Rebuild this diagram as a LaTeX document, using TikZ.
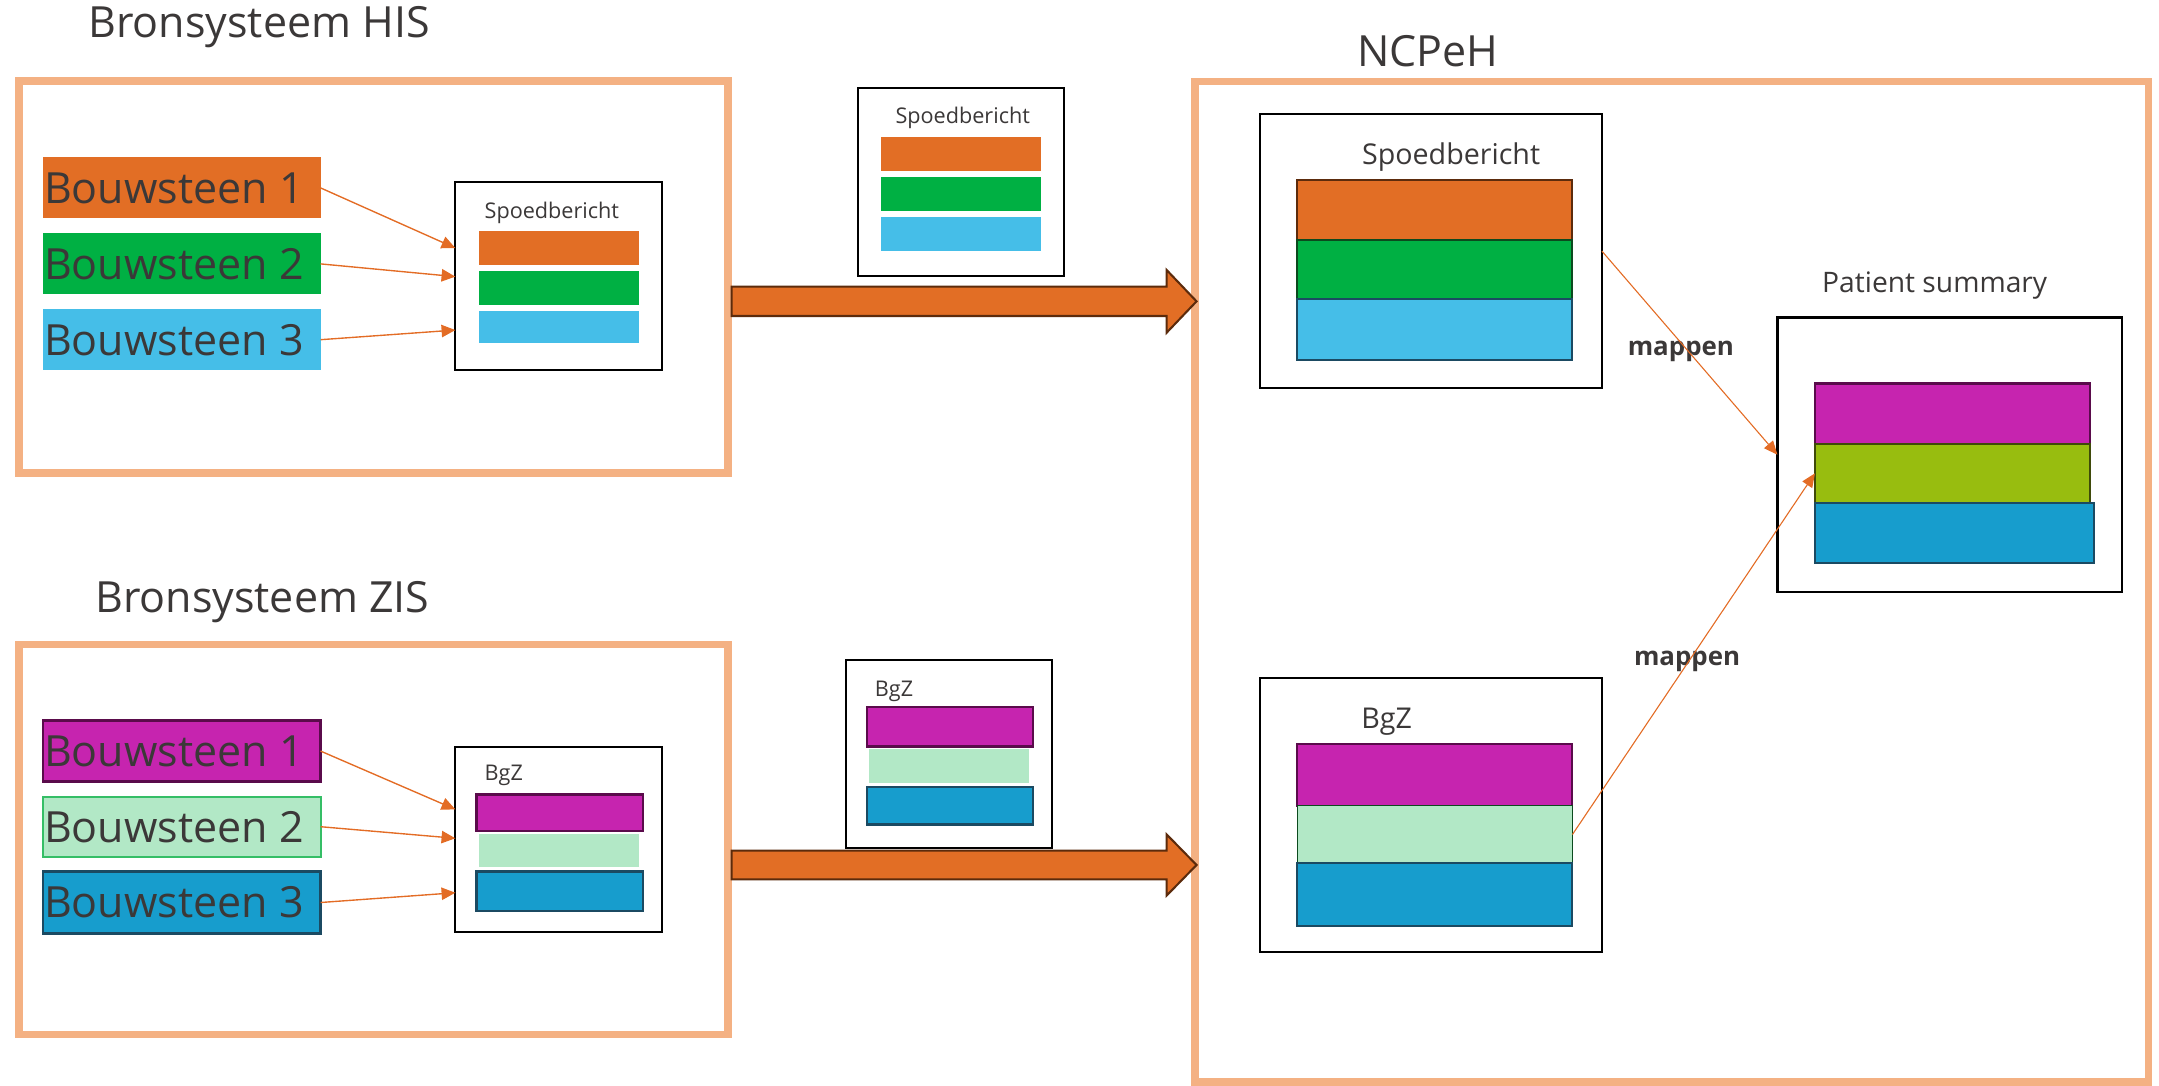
\documentclass[tikz,border=0pt]{standalone}
\usepackage{fontspec}
\setmainfont{Open Sans}
\usetikzlibrary{arrows.meta,calc}
\definecolor{frameor}{HTML}{F4B183}
\definecolor{bor}{HTML}{E26E25}
\definecolor{bgreen}{HTML}{00B043}
\definecolor{blight}{HTML}{45BEE8}
\definecolor{bpurple}{HTML}{C624AF}
\definecolor{blgreen}{HTML}{B2E8C6}
\definecolor{bblue}{HTML}{179DCD}
\definecolor{bolive}{HTML}{98BD0F}
\definecolor{txt}{HTML}{3B3838}
\definecolor{arrowc}{HTML}{E36C25}
\definecolor{brownb}{HTML}{5C2B0C}
\definecolor{dpurple}{HTML}{5A0B4B}
\definecolor{dblue}{HTML}{1B4A62}
\definecolor{dgreen}{HTML}{0C4A1E}
\definecolor{mgreen}{HTML}{35BE66}
\definecolor{dolive}{HTML}{3F4A0A}
\tikzset{
  sysframe/.style={draw=frameor, line width=5.5pt, rectangle, inner sep=0pt, outer sep=0pt},
  msgbox/.style={draw=black, line width=1.5pt, fill=white, rectangle, inner sep=0pt, outer sep=0pt},
  bar/.style={rectangle, inner sep=0pt, outer sep=0pt},
  bigtext/.style={font=\fontsize{31.2}{37}\selectfont, text=txt, inner sep=0pt},
  smalltext/.style={font=\fontsize{15.7}{19}\selectfont, text=txt, inner sep=0pt},
  midtext/.style={font=\fontsize{20.8}{25}\selectfont, text=txt, inner sep=0pt},
  maptext/.style={font=\fontsize{18.8}{22}\selectfont\bfseries, text=txt, inner sep=0pt},
  linkarrow/.style={draw=arrowc, line width=1pt, -{Triangle[length=10pt,width=9pt]}},
  maparrow/.style={draw=arrowc, line width=0.8pt, -{Triangle[length=10pt,width=8.5pt]}},
  bigarrow/.style={fill=bor, draw=brownb, line width=1.5pt, line join=miter},
}
\begin{document}
\begin{tikzpicture}[x={(1pt,0)}, y={(0,-1pt)}]
\useasboundingbox (0,0) rectangle (1568,788);

% frames
\node[sysframe, minimum width=515pt, minimum height=284.5pt, anchor=north west] (hisframe) at (13.9,59) {};
\node[sysframe, minimum width=515pt, minimum height=283.2pt, anchor=north west] (zisframe) at (13.9,468.2) {};
\node[sysframe, minimum width=692.6pt, minimum height=726.8pt, anchor=north west] (ncpframe) at (867.9,59.2) {};

% titles
\node[bigtext, anchor=base west] (histitle) at (64,27.5) {Bronsysteem HIS};
\node[bigtext, anchor=base west] (zistitle) at (69,444.6) {Bronsysteem ZIS};
\node[bigtext, anchor=base west] (ncptitle) at (985.6,48.6) {NCPeH};

% HIS bouwstenen
\node[bar, fill=bor, minimum width=201.5pt, minimum height=44.3pt, anchor=north west] (h1) at (31.3,114.3) {};
\node[bar, fill=bgreen, minimum width=201.5pt, minimum height=44.3pt, anchor=north west] (h2) at (31.3,169.5) {};
\node[bar, fill=blight, minimum width=201.5pt, minimum height=44.0pt, anchor=north west] (h3) at (31.3,224.7) {};
\node[bigtext, anchor=west] (h1t) at ([xshift=0.5pt]h1.west) {Bouwsteen 1};
\node[bigtext, anchor=west] (h2t) at ([xshift=0.5pt]h2.west) {Bouwsteen 2};
\node[bigtext, anchor=west] (h3t) at ([xshift=0.5pt]h3.west) {Bouwsteen 3};

% HIS message box
\node[msgbox, minimum width=150.1pt, minimum height=136.8pt, anchor=north west] (hisbox) at (330.7,131.9) {};
\node[bar, fill=bor, minimum width=116.4pt, minimum height=24.7pt, anchor=north west] (hb1) at (347.7,167.8) {};
\node[bar, fill=bgreen, minimum width=116.4pt, minimum height=24.7pt, anchor=north west] (hb2) at (347.7,196.8) {};
\node[bar, fill=blight, minimum width=116.4pt, minimum height=23pt, anchor=north west] (hb3) at (347.7,225.9) {};
\node[smalltext, anchor=base west] (hisboxt) at (351.8,158.6) {Spoedbericht};

\draw[linkarrow] (h1.east) -- ($(hisbox.west |- hb1.center)$);
\draw[linkarrow] (h2.east) -- ($(hisbox.west |- hb2.north)+(0,4.1)$);
\draw[linkarrow] (h3.east) -- ($(hisbox.west |- hb3.center)+(0,2.3)$);

% ZIS bouwstenen
\node[bar, fill=bpurple, draw=dpurple, line width=2pt, minimum width=201.5pt, minimum height=44.5pt, anchor=north west] (z1) at (31.3,523.2) {};
\node[bar, fill=blgreen, draw=mgreen, line width=1.5pt, minimum width=201.5pt, minimum height=43.6pt, anchor=north west] (z2) at (31.3,578.6) {};
\node[bar, fill=bblue, draw=dblue, line width=2pt, minimum width=201.5pt, minimum height=44.7pt, anchor=north west] (z3) at (31.3,633.1) {};
\node[bigtext, anchor=west] (z1t) at ([xshift=0.5pt]z1.west) {Bouwsteen 1};
\node[bigtext, anchor=west] (z2t) at ([xshift=0.5pt]z2.west) {Bouwsteen 2};
\node[bigtext, anchor=west] (z3t) at ([xshift=0.5pt]z3.west) {Bouwsteen 3};

% ZIS message box
\node[msgbox, minimum width=150.1pt, minimum height=134.3pt, anchor=north west] (zisbox) at (330.7,542.8) {};
\node[bar, fill=bpurple, draw=dpurple, line width=2pt, minimum width=120.6pt, minimum height=26.6pt, anchor=north west] (zb1) at (346.3,576.9) {};
\node[bar, fill=blgreen, minimum width=116.4pt, minimum height=24.2pt, anchor=north west] (zb2) at (347.7,605.7) {};
\node[bar, fill=bblue, draw=dblue, line width=2pt, minimum width=120.6pt, minimum height=28.5pt, anchor=north west] (zb3) at (346.3,633.1) {};
\node[smalltext, anchor=base west] (zisboxt) at (351.8,567) {BgZ};

\draw[linkarrow] (z1.east) -- ($(zisbox.west |- zb1.center)+(0,-2.4)$);
\draw[linkarrow] (z2.east) -- ($(zisbox.west |- zb2.north)+(0,3.1)$);
\draw[linkarrow] (z3.east) -- ($(zisbox.west |- zb3.center)+(0,1)$);

% floating messages
\node[msgbox, minimum width=149.9pt, minimum height=136.5pt, anchor=north west] (fspoed) at (622.9,63.9) {};
\node[bar, fill=bor, minimum width=116.2pt, minimum height=24.3pt, anchor=north west] (fs1) at (639.8,99.7) {};
\node[bar, fill=bgreen, minimum width=116.2pt, minimum height=24.2pt, anchor=north west] (fs2) at (639.8,128.8) {};
\node[bar, fill=blight, minimum width=116.2pt, minimum height=24.2pt, anchor=north west] (fs3) at (639.8,157.8) {};
\node[smalltext, anchor=base west] (fspoedt) at (650.2,89.6) {Spoedbericht};

\node[msgbox, minimum width=150.1pt, minimum height=136.6pt, anchor=north west] (fbgz) at (614.2,479.3) {};
\node[bar, fill=bpurple, draw=dpurple, line width=2pt, minimum width=120.5pt, minimum height=28.8pt, anchor=north west] (fb1) at (629.7,513.5) {};
\node[bar, fill=blgreen, minimum width=116.2pt, minimum height=24.4pt, anchor=north west] (fb2) at (631.1,544) {};
\node[bar, fill=bblue, draw=dblue, line width=2pt, minimum width=120.5pt, minimum height=27.1pt, anchor=north west] (fb3) at (629.7,571.6) {};
\node[smalltext, anchor=base west] (fbgzt) at (635.2,505.5) {BgZ};

% big transfer arrows
\draw[bigarrow] (531.4,208.2) -- (847.3,208.2) -- (847.3,196.1) -- (869,218.85) -- (847.3,241.6) -- (847.3,229.5) -- (531.4,229.5) -- cycle;
\draw[bigarrow] (531.4,617.8) -- (847.3,617.8) -- (847.3,606) -- (869,628.2) -- (847.3,650.4) -- (847.3,638.6) -- (531.4,638.6) -- cycle;

% NCPeH Spoedbericht
\node[msgbox, minimum width=248.4pt, minimum height=199.3pt, anchor=north west] (nspoed) at (915,82.7) {};
\node[bar, fill=bor, draw=brownb, line width=1.5pt, minimum width=199.5pt, minimum height=43.7pt, anchor=north west] (ns1) at (942.2,130.6) {};
\node[bar, fill=bgreen, draw=dgreen, line width=1.5pt, minimum width=199.5pt, minimum height=43.1pt, anchor=north west] (ns2) at (942.2,174.3) {};
\node[bar, fill=blight, draw=dblue, line width=1.5pt, minimum width=199.5pt, minimum height=43.9pt, anchor=north west] (ns3) at (942.2,217.4) {};
\node[midtext, anchor=base west] (nspoedt) at (989,119.2) {Spoedbericht};

% NCPeH BgZ
\node[msgbox, minimum width=248.2pt, minimum height=199.2pt, anchor=north west] (nbgz) at (915,492.2) {};
\node[bar, fill=bpurple, draw=dpurple, line width=1.5pt, minimum width=199.8pt, minimum height=45pt, anchor=north west] (nb1) at (942.2,540.1) {};
\node[bar, fill=blgreen, draw=dgreen, line width=1.2pt, minimum width=199.8pt, minimum height=41.9pt, anchor=north west] (nb2) at (942.2,585.1) {};
\node[bar, fill=bblue, draw=dblue, line width=1.5pt, minimum width=199.8pt, minimum height=45.5pt, anchor=north west] (nb3) at (942.2,627) {};
\node[midtext, anchor=base west] (nbgzt) at (988.5,529) {BgZ};

% Patient summary
\node[msgbox, minimum width=249.9pt, minimum height=199.3pt, anchor=north west] (ps) at (1290.9,230.6) {};
\node[bar, fill=bpurple, draw=dpurple, line width=1.5pt, minimum width=200pt, minimum height=43.7pt, anchor=north west] (ps1) at (1318.1,278.5) {};
\node[bar, fill=bolive, draw=dolive, line width=1.5pt, minimum width=200pt, minimum height=43.1pt, anchor=north west] (ps2) at (1318.1,322.2) {};
\node[bar, fill=bblue, draw=dblue, line width=1.5pt, minimum width=202.9pt, minimum height=43.9pt, anchor=north west] (ps3) at (1318.1,365.3) {};
\node[midtext, font=\fontsize{20.5}{25}\selectfont, anchor=base west] (pst) at (1323.2,212.5) {Patient summary};

% mapping
\node[maptext, anchor=base west] (map1) at (1182,257.9) {mappen};
\node[maptext, anchor=base west] (map2) at (1186.5,483) {mappen};
\draw[maparrow] (nspoed.east) -- (ps.west);
\draw[maparrow] (nb2.east) -- (ps2.west);
\end{tikzpicture}
\end{document}
